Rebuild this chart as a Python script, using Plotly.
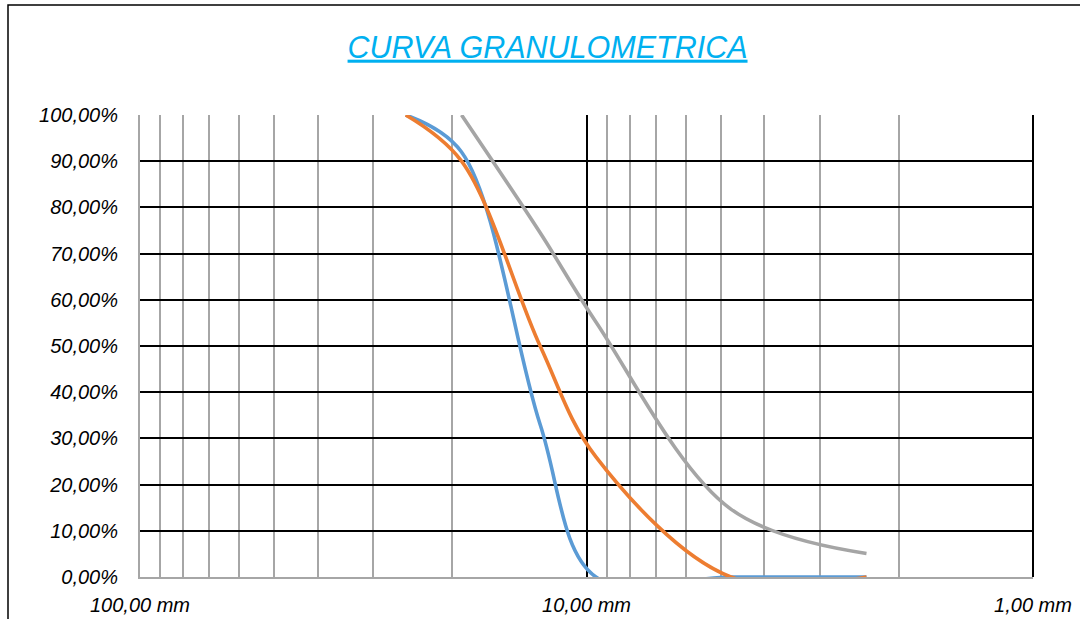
import plotly.graph_objects as go

# Sieve sizes (mm) and % passing
sizes_mm = [25.4, 19.05, 12.7, 9.525, 4.75, 2.36]
passing_blue = [1.00, 0.92, 0.33, 0.00, 0.00, 0.00]
passing_orange = [1.00, 0.90, 0.50, 0.26, 0.00, 0.00]
passing_gray = [None, 1.00, 0.745, 0.552, 0.147, 0.051]

major_ticks_mm = [100, 10, 1]
major_tick_text = ["100,00 mm", "10,00 mm", "1,00 mm"]
minor_grid_mm = [90, 80, 70, 60, 50, 40, 30, 20, 9, 8, 7, 6, 5, 4, 3, 2]

TICK_FONT = dict(family="Liberation Sans Narrow, Arial Narrow, Liberation Sans, Arial",
                 size=20, color="#000000", style="italic")

fig = go.Figure()
for vals, col in [(passing_blue, "#5B9BD5"), (passing_orange, "#ED7D31"), (passing_gray, "#A5A5A5")]:
    fig.add_trace(go.Scatter(x=sizes_mm, y=vals, mode="lines",
                             line=dict(color=col, width=3.6, shape="spline", smoothing=1),
                             showlegend=False, hoverinfo="skip"))

fig.update_layout(
    width=1080, height=619,
    margin=dict(l=140, r=47, t=115, b=42, autoexpand=False),
    paper_bgcolor="white", plot_bgcolor="white",
    separators=",.",
    title=dict(text="CURVA GRANULOMETRICA", x=0.507, xref="container", xanchor="center",
               y=1 - 47 / 619, yref="container", yanchor="middle",
               font=dict(family="Liberation Sans, Arial", size=30.5, color="#00B0F0",
                         style="italic", lineposition="under")),
    xaxis=dict(type="log", range=[2, 0], tickmode="array", tickvals=major_ticks_mm,
               ticktext=major_tick_text, tickfont=TICK_FONT, ticks="", ticklabelstandoff=9,
               automargin=False,
               showgrid=True, gridcolor="#000000", gridwidth=2,
               showline=True, linecolor="#A6A6A6", linewidth=2, zeroline=False,
               minor=dict(tickmode="array", tickvals=minor_grid_mm, showgrid=True,
                          gridcolor="#A6A6A6", gridwidth=2, ticks="")),
    yaxis=dict(range=[0, 1], tickmode="linear", tick0=0, dtick=0.1, tickformat=".2%",
               tickfont=TICK_FONT, ticks="", ticklabelstandoff=16, automargin=False,
               showgrid=True, gridcolor="#000000", gridwidth=2,
               showline=True, linecolor="#A6A6A6", linewidth=2, zeroline=False),
    shapes=[
        dict(type="rect", xref="paper", yref="paper",
             x0=(8 - 140) / 893, x1=1.2, y0=-0.3, y1=(577 - 5) / 462,
             line=dict(color="#000000", width=1.5), fillcolor="rgba(0,0,0,0)", layer="below"),
        dict(type="line", xref="paper", yref="paper", x0=1, x1=1, y0=0, y1=1,
             line=dict(color="#000000", width=2), layer="below"),
    ],
)

fig.write_html("out.html")
